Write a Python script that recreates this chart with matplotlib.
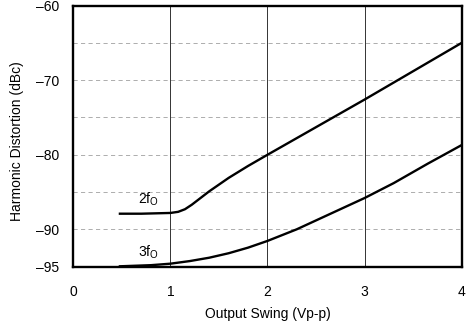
import matplotlib.pyplot as plt

# 2fO harmonic distortion vs output swing
swing_2f = [0.48, 0.7, 1.0, 1.08, 1.15, 1.22, 1.3, 1.4, 1.6, 1.8, 2.0, 2.5, 3.0, 3.5, 4.0]
dist_2f = [-87.9, -87.9, -87.8, -87.65, -87.3, -86.7, -85.9, -84.9, -83.1, -81.5, -80.0, -76.3, -72.6, -68.8, -65.0]

# 3fO harmonic distortion vs output swing
swing_3f = [0.48, 0.8, 1.0, 1.2, 1.4, 1.6, 1.8, 2.0, 2.3, 2.6, 3.0, 3.3, 3.65, 4.0]
dist_3f = [-94.95, -94.8, -94.6, -94.25, -93.8, -93.2, -92.45, -91.55, -90.0, -88.2, -85.8, -83.8, -81.2, -78.7]

x_ticks = [0, 1, 2, 3, 4]
y_ticks = [-60, -70, -80, -90, -95]
y_grid = [-65, -70, -75, -80, -85, -90]


def main() -> None:
    plt.rcParams["font.family"] = ["Liberation Sans", "DejaVu Sans"]

    fig = plt.figure(figsize=(4.73, 3.28), dpi=100)
    ax = fig.add_axes([0.155, 0.187, 0.821, 0.796])

    ax.set_xlim(0, 4)
    ax.set_ylim(-95, -60)

    for x in x_ticks[1:-1]:
        ax.axvline(x, color="#333333", linewidth=0.7, zorder=1)
    for y in y_grid:
        ax.axhline(y, color="#a0a0a0", linewidth=0.6, linestyle=(0, (5, 4)), zorder=1)

    ax.plot(swing_2f, dist_2f, color="black", linewidth=1.7, zorder=3)
    ax.plot(swing_3f, dist_3f, color="black", linewidth=1.7, zorder=3)

    ax.text(0.77, -87.1, r"$\mathregular{2f_O}$", fontsize=10, ha="center", va="bottom")
    ax.text(0.77, -94.2, r"$\mathregular{3f_O}$", fontsize=10, ha="center", va="bottom")

    ax.set_xticks(x_ticks)
    ax.set_yticks(y_ticks)
    ax.set_yticklabels([f"\u2013{abs(v)}" for v in y_ticks])
    ax.tick_params(length=0, labelsize=10)
    ax.tick_params(axis="x", pad=13)
    ax.tick_params(axis="y", pad=10)

    for spine in ax.spines.values():
        spine.set_linewidth(1.7)
        spine.set_zorder(4)

    ax.set_xlabel("Output Swing (Vp-p)", fontsize=10)
    ax.xaxis.set_label_coords(0.5, -0.155)
    ax.xaxis.label.set_va("top")
    ax.set_ylabel("Harmonic Distortion (dBc)", fontsize=10)
    ax.yaxis.set_label_coords(-0.145, 0.48)
    ax.yaxis.label.set_va("center")

    fig.savefig("out.png", dpi=100)
    plt.close(fig)


if __name__ == "__main__":
    main()
